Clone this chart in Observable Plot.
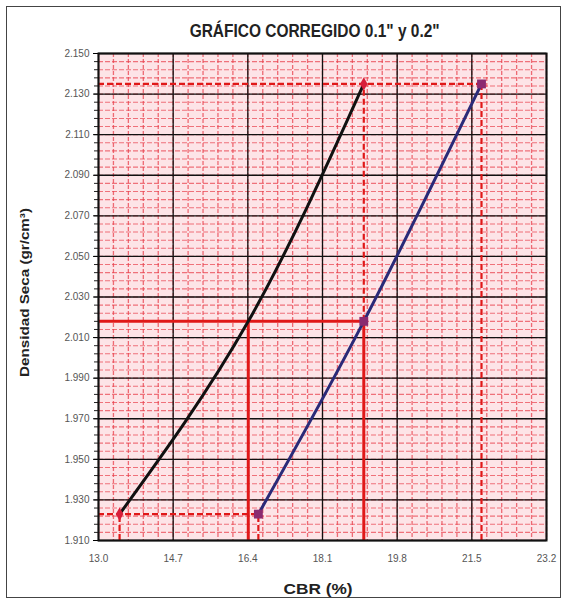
<!DOCTYPE html>
<html><head><meta charset="utf-8">
<script src="https://cdn.jsdelivr.net/npm/d3@7"></script>
<script src="https://cdn.jsdelivr.net/npm/@observablehq/plot@0.6"></script>
<style>
body{margin:0;background:#fff;}
#wrap{position:relative;width:567px;height:601px;}
#frame{position:absolute;left:6px;top:6px;width:555px;height:592px;border:1px solid #444;box-sizing:border-box;}
.lab{position:absolute;white-space:nowrap;font-family:"Liberation Sans",Arial,sans-serif;font-weight:bold;color:#222;line-height:1;}
svg{position:absolute;left:0;top:0;}
</style></head>
<body><div id="wrap"><div id="frame"></div></div>
<script>
const titleText = "GRÁFICO CORREGIDO 0.1\" y 0.2\"";
const yLabel = "Densidad Seca (gr/cm³)";
const xLabel = "CBR  (%)";
const xTicks = [13.0, 14.7, 16.4, 18.1, 19.8, 21.5, 23.2];
const yTicks = [1.910, 1.930, 1.950, 1.970, 1.990, 2.010, 2.030, 2.050, 2.070, 2.090, 2.110, 2.130, 2.150];
const cbr01 = [13.48, 16.41, 19.04];
const dens01 = [1.923, 2.018, 2.135];
const cbr02 = [16.64, 19.04, 21.72];
const dens02 = [1.923, 2.018, 2.135];

const s1 = cbr01.map((x,i)=>({x, y: dens01[i]}));
const s2 = cbr02.map((x,i)=>({x, y: dens02[i]}));
const xMin = xTicks[0], xMax = xTicks[xTicks.length-1];
const yMin = yTicks[0], yMax = yTicks[yTicks.length-1];
const xMinor = d3.range(0, 31).map(i => xMin + i*0.34);
const yMinor = d3.range(0, 61).map(i => yMin + i*0.004);

const solidH = [{y: dens01[1], x1: xMin, x2: cbr02[1]}];
const solidV = [{x: cbr01[1], y1: yMin, y2: dens01[1]}, {x: cbr02[1], y1: yMin, y2: dens02[1]}];
const dashH = [{y: dens02[2], x1: xMin, x2: cbr02[2]}, {y: dens01[0], x1: xMin, x2: cbr02[0]}];
const dashV = [
  {x: cbr01[2], y1: dens01[1], y2: dens01[2]},
  {x: cbr02[2], y1: yMin, y2: dens02[2]},
  {x: cbr01[0], y1: yMin, y2: dens01[0]},
  {x: cbr02[0], y1: yMin, y2: dens02[0]}
];
const bg = [{x1: xMin, x2: xMax, y1: yMin, y2: yMax}];

const chart = Plot.plot({
  width: 567, height: 601,
  marginLeft: 98, marginRight: 21, marginTop: 53, marginBottom: 61,
  style: {background: "transparent", fontFamily: "Liberation Sans, Arial, sans-serif", fontSize: "10px"},
  x: {domain: [xMin, xMax]},
  y: {domain: [yMin, yMax]},
  marks: [
    Plot.rect(bg, {x1: "x1", x2: "x2", y1: "y1", y2: "y2", fill: "#fde4e7"}),
    Plot.ruleX(xMinor, {stroke: "#e8404c", strokeWidth: 1.3, strokeDasharray: "4,2", strokeOpacity: 0.75}),
    Plot.ruleY(yMinor, {stroke: "#e8404c", strokeWidth: 1.1, strokeDasharray: "5,2", strokeOpacity: 0.7}),
    Plot.ruleX(xTicks, {stroke: "#111", strokeWidth: 1.3}),
    Plot.ruleY(yTicks, {stroke: "#111", strokeWidth: 1.3}),
    Plot.axisY({ticks: yMinor, tickFormat: () => "", tickSize: 4, stroke: "#222"}),
    Plot.axisY({ticks: yTicks, tickFormat: d3.format(".3f"), tickSize: 5, tickPadding: 4, label: null, fill: "#555"}),
    Plot.axisX({ticks: xTicks, tickFormat: d3.format(".1f"), tickSize: 0, tickPadding: 14, label: null, fill: "#555"}),
    Plot.ruleY(solidH, {y: "y", x1: "x1", x2: "x2", stroke: "#e01818", strokeWidth: 3}),
    Plot.ruleX(solidV, {x: "x", y1: "y1", y2: "y2", stroke: "#e01818", strokeWidth: 3}),
    Plot.ruleY(dashH, {y: "y", x1: "x1", x2: "x2", stroke: "#e01818", strokeWidth: 2.2, strokeDasharray: "6,3"}),
    Plot.ruleX(dashV, {x: "x", y1: "y1", y2: "y2", stroke: "#e01818", strokeWidth: 2.2, strokeDasharray: "6,3"}),
    Plot.line(s1, {x: "x", y: "y", stroke: "#111", strokeWidth: 3, curve: "natural"}),
    Plot.line(s2, {x: "x", y: "y", stroke: "#2a2a78", strokeWidth: 3, curve: "natural"}),
    Plot.dot([s1[0], s1[2]], {x: "x", y: "y", symbol: "diamond", r: 4, fill: "#d81e3a", stroke: "none"}),
    Plot.dot(s2, {x: "x", y: "y", symbol: "square", r: 5, fill: "#8a2a70", stroke: "none"}),
    Plot.frame({stroke: "#111", strokeWidth: 2})
  ]
});
const wrap = document.getElementById("wrap");
wrap.appendChild(chart);

function addLabel(txt, size, targetW, cx, cy, rotate) {
  const d = document.createElement("div");
  d.className = "lab"; d.textContent = txt; d.style.fontSize = size + "px";
  wrap.appendChild(d);
  const w = d.getBoundingClientRect().width, h = d.getBoundingClientRect().height;
  const sx = targetW / w;
  d.style.left = (cx - w/2) + "px"; d.style.top = (cy - h/2) + "px";
  d.style.transformOrigin = "50% 50%";
  d.style.transform = (rotate ? "rotate(-90deg) " : "") + "scaleX(" + sx + ")";
}
addLabel(titleText, 19, 250, 315, 30, false);
addLabel(yLabel, 13, 169, 24, 292, true);
addLabel(xLabel, 15, 69, 318, 588, false);
</script></body></html>
